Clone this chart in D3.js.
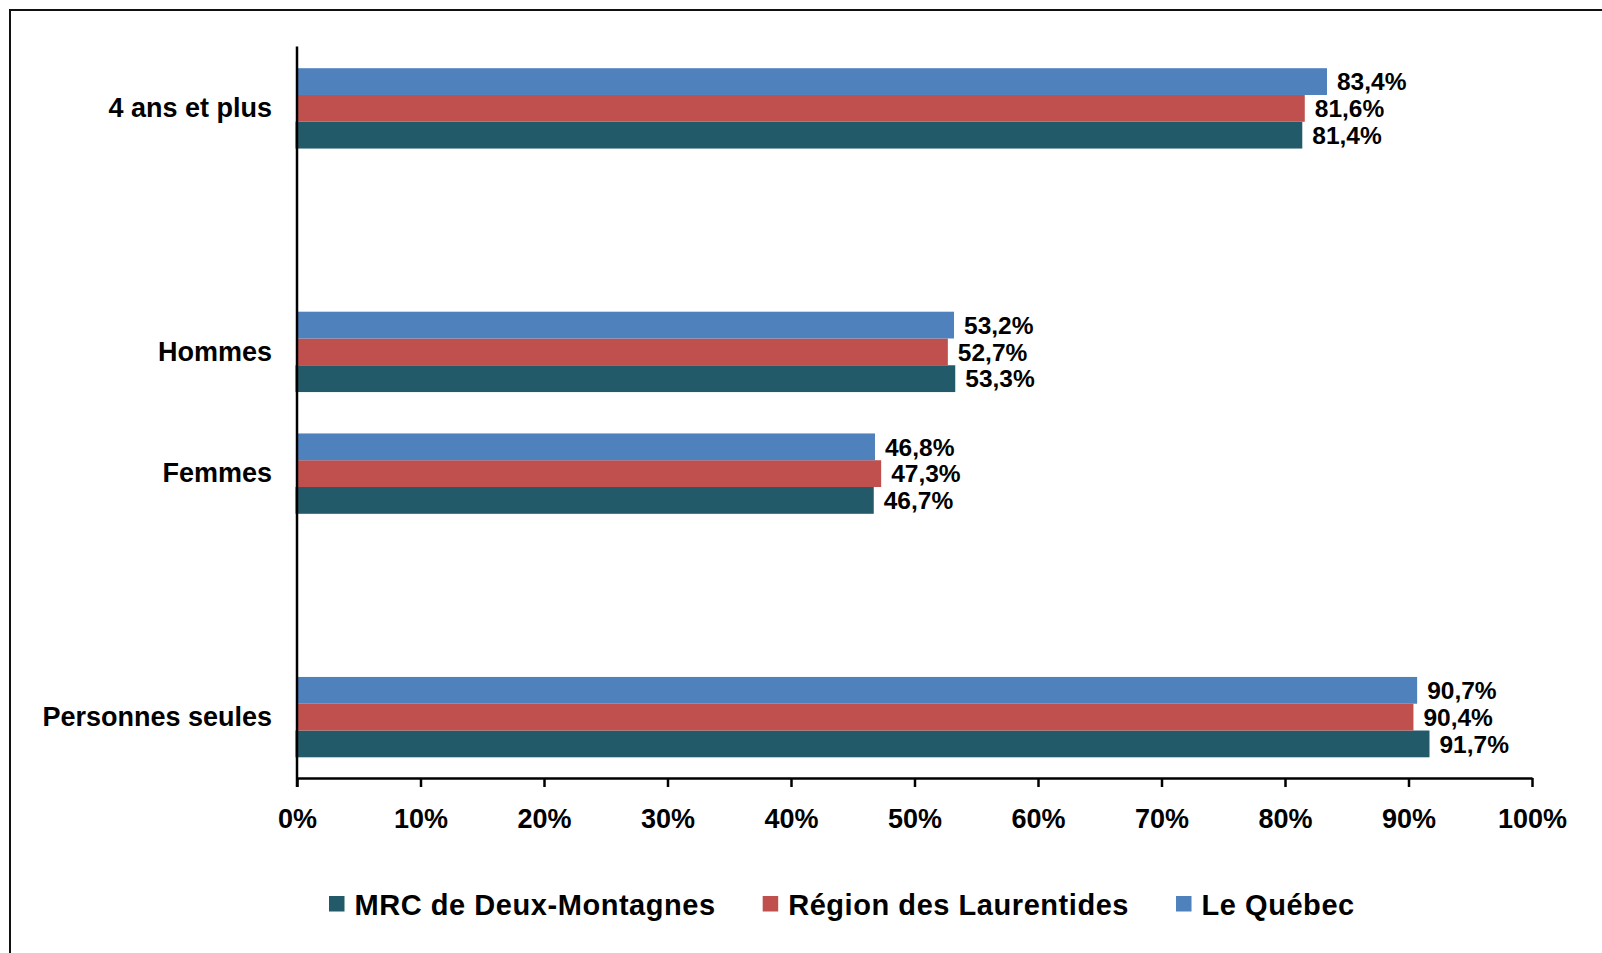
<!DOCTYPE html>
<html>
<head>
<meta charset="utf-8">
<script src="https://cdn.jsdelivr.net/npm/d3@7"></script>
<style>
  html, body { margin: 0; padding: 0; background: #fff; }
  svg { display: block; }
  text { font-family: "Liberation Sans", Arial, sans-serif; font-weight: bold; fill: #000; }
</style>
</head>
<body>
<svg id="chart" width="1602" height="953"></svg>
<script>
// Categories, top to bottom (empty strings are blank slots in the original chart)
const categories = ["4 ans et plus", "", "Hommes", "Femmes", "", "Personnes seules"];
// Series (values in %), null for blank slots
const seriesNames = ["MRC de Deux-Montagnes", "Région des Laurentides", "Le Québec"];
const mrcValues     = [81.4, null, 53.3, 46.7, null, 91.7];
const regionValues  = [81.6, null, 52.7, 47.3, null, 90.4];
const quebecValues  = [83.4, null, 53.2, 46.8, null, 90.7];
const seriesColors  = ["#235A69", "#C0504D", "#4F81BD"];
const xTicks = [0, 10, 20, 30, 40, 50, 60, 70, 80, 90, 100];

const series = [
  { name: seriesNames[0], values: mrcValues, color: seriesColors[0] },
  { name: seriesNames[1], values: regionValues, color: seriesColors[1] },
  { name: seriesNames[2], values: quebecValues, color: seriesColors[2] }
];

const svg = d3.select("#chart");

// outer frame (extends beyond the picture on the right and bottom)
svg.append("rect")
  .attr("x", 10).attr("y", 10)
  .attr("width", 1700).attr("height", 1000)
  .attr("fill", "none").attr("stroke", "#111").attr("stroke-width", 2);

const plot = { left: 297, right: 1532, top: 47.5, bottom: 778 };

const x = d3.scaleLinear().domain([0, 100]).range([plot.left, plot.right]);
const y = d3.scaleBand()
  .domain(d3.range(categories.length))
  .range([plot.top, plot.bottom])
  .paddingInner(0.34).paddingOuter(0.17);

// within a group: Québec on top, then Région, then MRC at the bottom
const yInner = d3.scaleBand()
  .domain([2, 1, 0])
  .range([0, y.bandwidth()]);

const fmt = v => d3.format(".1f")(v).replace(".", ",") + "%";

// bars
series.forEach((s, si) => {
  const g = svg.append("g");
  const data = s.values.map((v, i) => ({ v, i })).filter(d => d.v != null);
  g.selectAll("rect").data(data).enter().append("rect")
    .attr("x", x(0) - (si === 0 ? 1.5 : 0))
    .attr("y", d => y(d.i) + yInner(si))
    .attr("width", d => x(d.v) - x(0) + (si === 0 ? 1.5 : 0))
    .attr("height", yInner.bandwidth())
    .attr("fill", s.color);
  g.selectAll("text").data(data).enter().append("text")
    .attr("x", d => x(d.v) + 10)
    .attr("y", d => y(d.i) + yInner(si) + yInner.bandwidth() / 2)
    .attr("dy", "0.36em")
    .style("font-size", "24.5px")
    .text(d => fmt(d.v));
});

// x axis
const xAxis = d3.axisBottom(x)
  .tickValues(xTicks)
  .tickFormat(d => d + "%")
  .tickSize(9)
  .tickSizeOuter(0);
const gx = svg.append("g")
  .attr("transform", `translate(0,${plot.bottom})`)
  .call(xAxis);
gx.select(".domain").attr("stroke", "#000").attr("stroke-width", 2.5);
gx.selectAll(".tick line").attr("stroke", "#000").attr("stroke-width", 2.5);
gx.selectAll(".tick text")
  .attr("y", 31).attr("dy", "0.71em")
  .attr("font-family", null).attr("font-size", null)
  .style("font-size", "27px");

// y axis (category labels)
const yAxis = d3.axisLeft(y)
  .tickFormat(i => categories[i])
  .tickSize(0)
  .tickPadding(25);
const gy = svg.append("g")
  .attr("transform", `translate(${plot.left},0)`)
  .call(yAxis);
gy.select(".domain").remove();
gy.selectAll(".tick text")
  .attr("font-family", null).attr("font-size", null)
  .style("font-size", "27px");
svg.append("line")
  .attr("x1", plot.left).attr("x2", plot.left)
  .attr("y1", plot.top - 1).attr("y2", plot.bottom + 9)
  .attr("stroke", "#000").attr("stroke-width", 2.5);

// legend
const legend = svg.append("g");
let lx = 329;
series.forEach(s => {
  legend.append("rect")
    .attr("x", lx).attr("y", 896)
    .attr("width", 15.5).attr("height", 15.5)
    .attr("fill", s.color);
  const t = legend.append("text")
    .attr("x", lx + 25.5).attr("y", 915)
    .style("font-size", "29px")
    .style("letter-spacing", "0.55px")
    .text(s.name);
  lx += 25.5 + t.node().getComputedTextLength() + 47;
});
</script>
</body>
</html>
